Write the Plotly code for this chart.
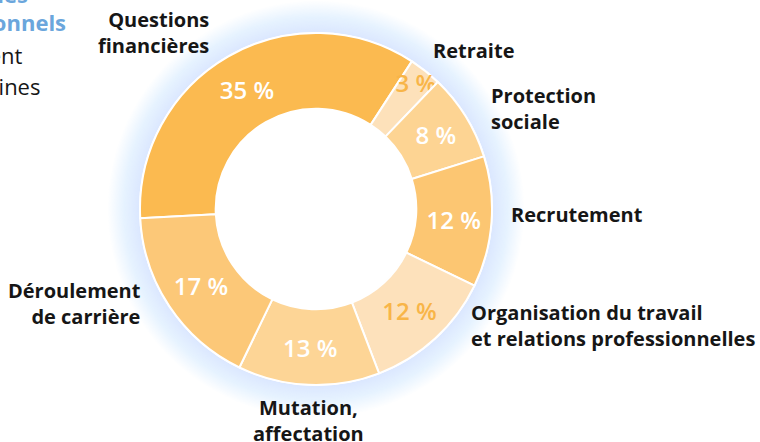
import plotly.graph_objects as go

# Répartition des saisines par thème
themes = ["Questions financières", "Retraite", "Protection sociale", "Recrutement",
          "Organisation du travail et relations professionnelles",
          "Mutation, affectation", "Déroulement de carrière"]
parts = [35, 3, 8, 12, 12, 13, 17]
couleurs = ["#FBBA50", "#FDE1BA", "#FDD493", "#FCC672", "#FDE1BB", "#FDD596", "#FCC878"]
couleurs_texte = ["white", "#F8B548", "white", "white", "#F8B548", "white", "white"]

W, H = 760, 442
CX, CY, R = 316, 209, 176


def px(x):
    return x / W


def py(y):
    return 1 - y / H


fig = go.Figure()

fig.add_trace(go.Pie(
    labels=themes,
    values=parts,
    sort=False,
    direction="clockwise",
    rotation=267,
    hole=0.57,
    marker=dict(colors=couleurs, line=dict(color="white", width=2)),
    texttemplate="%{value} %",
    textposition="inside",
    insidetextorientation="horizontal",
    textfont=dict(family="Open Sans", size=24, color=couleurs_texte, weight=600),
    domain=dict(x=[px(CX - R), px(CX + R)], y=[py(CY + R), py(CY - R)]),
    showlegend=False,
    hoverinfo="label+value",
))

# halo bleuté autour de l'anneau
shapes = []
n = 24
for i in range(n):
    r = R + 32 - i * 32 / n
    shapes.append(dict(
        type="circle", xref="paper", yref="paper",
        xsizemode="pixel", ysizemode="pixel",
        xanchor=px(CX), yanchor=py(CY),
        x0=-r, x1=r, y0=-r, y1=r,
        fillcolor="#CFE1F4", opacity=0.045, line=dict(width=0),
        layer="below",
    ))
shapes.append(dict(
    type="circle", xref="paper", yref="paper",
    xsizemode="pixel", ysizemode="pixel",
    xanchor=px(CX), yanchor=py(CY),
    x0=-R - 1, x1=R + 1, y0=-R - 1, y1=R + 1,
    fillcolor="white", line=dict(width=0), layer="below",
))

lab = dict(family="Open Sans", size=20, color="#161616", weight=700)
annotations = [
    dict(x=px(211), y=py(33), text="Questions<br>financières", xanchor="right", align="right"),
    dict(x=px(431), y=py(50), text="Retraite", xanchor="left", align="left"),
    dict(x=px(489), y=py(108), text="Protection<br>sociale", xanchor="left", align="left"),
    dict(x=px(509), y=py(214), text="Recrutement", xanchor="left", align="left"),
    dict(x=px(469), y=py(325), text="Organisation du travail<br>et relations professionnelles",
         xanchor="left", align="left"),
    dict(x=px(308), y=py(420), text="Mutation,<br>affectation", xanchor="center", align="center"),
    dict(x=px(143), y=py(303), text="Déroulement<br>de carrière", xanchor="right", align="right"),
]
for a in annotations:
    a.update(xref="paper", yref="paper", yanchor="middle", showarrow=False, font=lab)

# fin du texte de la colonne voisine, coupé par le cadre
bleu = dict(family="Open Sans", size=22, color="#6BA6DC", weight=700)
noir = dict(family="Open Sans", size=22, color="#161616", weight=400)
annotations += [
    dict(x=px(30), y=py(-6), text="des", font=bleu),
    dict(x=px(68), y=py(22), text="personnels", font=bleu),
    dict(x=px(24), y=py(55), text="concernent", font=noir),
    dict(x=px(42), y=py(86), text="humaines", font=noir),
]
for a in annotations[-4:]:
    a.update(xref="paper", yref="paper", xanchor="right", yanchor="middle", showarrow=False)

fig.update_layout(
    width=W, height=H,
    margin=dict(l=0, r=0, t=0, b=0),
    paper_bgcolor="white", plot_bgcolor="white",
    uniformtext=dict(minsize=24, mode="show"),
    shapes=shapes,
    annotations=annotations,
)

fig.write_html("out.html", config={"displayModeBar": False},
               post_script="document.body.style.margin='0px';")
